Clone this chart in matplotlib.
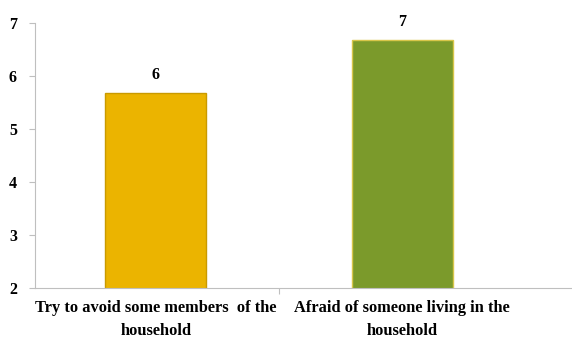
import matplotlib
matplotlib.use("Agg")
import matplotlib.pyplot as plt

categories = ["Try to avoid some members  of the\nhousehold",
              "Afraid of someone living in the\nhousehold"]
values = [5.67, 6.67]
labels = ["6", "7"]
colors = ["#EBB400", "#7B9A2B"]
edges = ["#C99A00", "#D8C64A"]
yticks = [2, 3, 4, 5, 6, 7]

plt.rcParams['font.family'] = ['Liberation Serif', 'DejaVu Serif']
plt.rcParams['font.weight'] = 'bold'

fig = plt.figure(figsize=(5.72, 3.48), dpi=100)
ax = fig.add_axes([0.0612, 0.1724, 0.9388, 0.7616])

x = list(range(len(categories)))
bars = ax.bar(x, values, width=0.41, color=colors, edgecolor=edges, linewidth=1.0, bottom=0)
for xi, v, lab in zip(x, values, labels):
    ax.text(xi, v + 0.2, lab, ha='center', va='bottom', fontsize=11.5, fontweight='bold')

ax.set_ylim(2, 7)
ax.set_xlim(-0.49, 1.69)
ax.set_yticks(yticks)
ax.set_yticklabels([str(t) for t in yticks], fontsize=11.5, fontweight='bold')
ax.set_xticks([0.5])
ax.set_xticklabels([""])
ax.tick_params(axis='y', length=4, color='#BFBFBF', pad=9)
ax.tick_params(axis='x', length=4, color='#BFBFBF', direction='out')
for xi, c in zip(x, categories):
    ax.text(xi, -0.045, c, transform=ax.get_xaxis_transform(), ha='center', va='top',
            fontsize=11.8, fontweight='bold', linespacing=1.6)

for s in ['top', 'right']:
    ax.spines[s].set_visible(False)
ax.spines['left'].set_color('#BFBFBF')
ax.spines['bottom'].set_color('#BFBFBF')

fig.savefig("out.png", dpi=100)
